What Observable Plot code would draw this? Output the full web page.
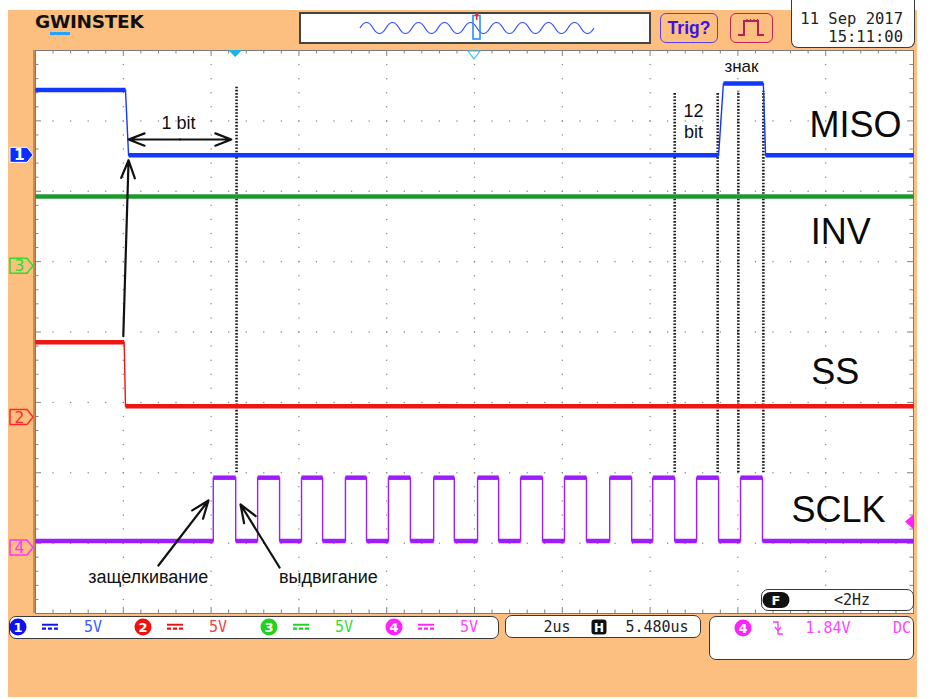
<!DOCTYPE html>
<html>
<head>
<meta charset="utf-8">
<script src="https://cdn.jsdelivr.net/npm/d3@7"></script>
<script src="https://cdn.jsdelivr.net/npm/@observablehq/plot@0.6"></script>
<style>
html,body{margin:0;padding:0;background:#fff;}
#scope{position:relative;width:928px;height:699px;overflow:hidden;}
#bg{position:absolute;left:8px;top:10px;width:909px;height:687px;background:#fcbf80;}
#chart{position:absolute;left:0;top:0;}
.box{position:absolute;background:#fff;border:1.5px solid #3a3a3a;box-sizing:border-box;}
.c{position:absolute;transform:translate(-50%,-50%);white-space:nowrap;line-height:1;}
.mono{font-family:"DejaVu Sans Mono","Liberation Mono",monospace;}
.circ{width:17px;height:17px;border-radius:50%;color:#fff;font:bold 13px "DejaVu Sans",sans-serif;display:flex;align-items:center;justify-content:center;}
#logo{position:absolute;left:35px;top:12px;font:bold 18.5px "DejaVu Sans",sans-serif;letter-spacing:-0.3px;color:#111;line-height:20px;}
#logo .w{border-bottom:3px solid #2aa0ff;}
</style>
</head>
<body>
<div id="scope">
  <div id="bg"></div>
  <div id="leftedge" style="position:absolute;left:33px;top:50px;width:2px;height:563px;background:#c98a4e;"></div>
  <div id="chart"></div>
  <div id="chrome"></div>
</div>
<script>
// ---------------- data ----------------
const usPerDiv = 2;          // time base (x in µs, 10 divisions)
const voltsPerDiv = 5;       // all channels
const channelIds = [1, 2, 3, 4];
const channelLabels = ["MISO", "SS", "INV", "SCLK"];
const channelOffsets = [2.51, -1.215, 0.935, -3.07];       // ground markers, divisions from centre
const traceColors = ["#1238ff", "#f01515", "#1e9632", "#9e1cff"];
const markerColors = ["#0a2eff", "#ff2a2a", "#2adf2a", "#ff33ff"];

// channel 1 : MISO
const misoTimes = [0, 2.05, 2.12, 15.56, 15.67, 16.58, 16.63, 20];
const misoVolts = [4.65, 4.65, 0, 0, 5.1, 5.1, 0, 0];
// channel 2 : SS
const ssTimes = [0, 2.02, 2.05, 20];
const ssVolts = [5.35, 5.35, 0.8, 0.8];
// channel 3 : INV
const invTimes = [0, 20];
const invVolts = [4.95, 4.95];
// channel 4 : SCLK
const sclkRise = [4.05, 5.06, 6.06, 7.06, 8.04, 9.07, 10.07, 11.05, 12.05, 13.08, 14.06, 15.06, 16.06];
const sclkFall = [4.56, 5.56, 6.54, 7.54, 8.54, 9.54, 10.55, 11.55, 12.55, 13.58, 14.56, 15.56, 16.56];
const sclkLow = 0.5, sclkHigh = 5.0;

// trigger
const trigChannel = 4, trigLevel = 1.84, trigTime = 4.56, centreTime = 10;

// dotted cursors
const cursorTimes = [4.58, 14.56, 15.54, 16.01, 16.58];
const cursorTops = [3.49, 3.39, 3.40, 3.42, 3.42];
const cursorBottom = -2.0;

// arrows
const arrowX1 = [3.29, 3.29, 2.00, 2.80, 5.56];
const arrowY1 = [2.735, 2.735, -0.06, -3.318, -3.346];
const arrowX2 = [2.12, 4.46, 2.12, 3.94, 4.67];
const arrowY2 = [2.735, 2.735, 2.44, -2.394, -2.451];

// annotation texts
const noteTexts = ["1 bit", "12", "bit", "знак", "защелкивание", "выдвигание"];
const noteX = [3.26, 14.99, 14.99, 16.08, 2.57, 6.67];
const noteY = [2.963, 3.133, 2.834, 3.773, -3.488, -3.488];
const noteSizes = [18, 18, 18, 17, 18, 18];
const labelX = [18.68, 18.22, 18.34, 18.29];
const labelY = [2.934, -0.575, 1.414, -2.536];

// screen texts
const dateText = "11 Sep 2017", timeText = "15:11:00";
const scaleTexts = ["5V", "5V", "5V", "5V"];
const timebaseText = "2us", hposText = "5.480us";
const trigText = "1.84V", couplingText = "DC", freqText = "<2Hz";

// ---------------- build ----------------
const toDiv = (ch, v) => channelOffsets[ch] + v / voltsPerDiv;
function tracePts(ch, times, volts) { return times.map((t, i) => ({ch, t, v: volts[i], y: toDiv(ch, volts[i])})); }
const sclkT = [0], sclkV = [sclkLow];
sclkRise.forEach((r, i) => { sclkT.push(r, r, sclkFall[i], sclkFall[i]); sclkV.push(sclkLow, sclkHigh, sclkHigh, sclkLow); });
sclkT.push(20); sclkV.push(sclkLow);

const traces = [
  tracePts(2, invTimes, invVolts),
  tracePts(0, misoTimes, misoVolts),
  tracePts(1, ssTimes, ssVolts),
  tracePts(3, sclkT, sclkV)
];
const levelSegs = [];
traces.forEach(pts => { for (let i = 1; i < pts.length; i++) if (pts[i].v === pts[i-1].v && pts[i].t > pts[i-1].t) levelSegs.push({ch: pts[i].ch, t1: pts[i-1].t, t2: pts[i].t, y: pts[i].y}); });
const allPts = traces.flatMap((pts, k) => pts.map(p => ({...p, k})));

const gridDots = [];
for (const gy of [-3, -2, -1, 0, 1, 2, 3]) for (let i = 1; i < 50; i++) gridDots.push({x: i * 0.4, y: gy});
for (let k = 1; k < 10; k++) for (let j = 1; j < 40; j++) gridDots.push({x: k * usPerDiv, y: -4 + j * 0.2});
const xTicks = d3.range(1, 50).map(i => ({x: i * 0.4, major: i % 5 === 0}));
const yTicks = d3.range(1, 40).map(j => ({y: -4 + j * 0.2, major: j % 5 === 0}));

const cursors = cursorTimes.map((t, i) => ({t, top: cursorTops[i]}));
const arrows = arrowX1.map((x, i) => ({x1: x, y1: arrowY1[i], x2: arrowX2[i], y2: arrowY2[i]}));
const notes = noteTexts.map((s, i) => ({s, x: noteX[i], y: noteY[i], size: noteSizes[i]}));
const labels = channelLabels.map((s, i) => ({s, x: labelX[i], y: labelY[i]}));
const font = "Liberation Sans, Arial, sans-serif";
const tickCol = "#808080";

const chart = Plot.plot({
  width: 928, height: 699,
  marginLeft: 35, marginRight: 15, marginTop: 50, marginBottom: 86,
  x: {domain: [0, 10 * usPerDiv], axis: null},
  y: {domain: [-4, 4], axis: null},
  style: {background: "transparent", overflow: "visible"},
  marks: [
    Plot.frame({fill: "white", stroke: "none"}),
    Plot.dot(gridDots, {x: "x", y: "y", r: 0.75, fill: "#8a8a8a", stroke: "none"}),
    Plot.ruleX(xTicks, {x: "x", y1: -4, y2: d => -4 + (d.major ? 0.085 : 0.05), stroke: tickCol}),
    Plot.ruleX(xTicks, {x: "x", y1: 4, y2: d => 4 - (d.major ? 0.085 : 0.05), stroke: tickCol}),
    Plot.ruleY(yTicks, {y: "y", x1: 0, x2: d => (d.major ? 0.137 : 0.08), stroke: tickCol}),
    Plot.ruleY(yTicks, {y: "y", x1: 20, x2: d => 20 - (d.major ? 0.137 : 0.08), stroke: tickCol}),
    Plot.frame({stroke: "#7a7a7a", strokeWidth: 1}),
    Plot.ruleX(cursors, {x: "t", y1: cursorBottom, y2: "top", stroke: "#1a1a1a", strokeWidth: 2.6, strokeDasharray: "1.6 1.6"}),
    Plot.line(allPts, {x: "t", y: "y", z: "k", stroke: d => traceColors[d.ch], strokeWidth: 1.4}),
    Plot.link(levelSegs, {x1: "t1", x2: "t2", y1: "y", y2: "y", stroke: d => traceColors[d.ch], strokeWidth: 4.5, strokeLinecap: "butt"}),
    Plot.arrow(arrows, {x1: "x1", y1: "y1", x2: "x2", y2: "y2", stroke: "#111", strokeWidth: 2.2, headLength: 13, headAngle: 42}),
    Plot.text(notes, {x: "x", y: "y", text: "s", fontSize: d => d.size, fontFamily: font, fill: "#111"}),
    Plot.text(labels, {x: "x", y: "y", text: "s", fontSize: 36, fontFamily: font, fill: "#0a0a0a"})
  ]
});
chart.style.background = "transparent";
document.getElementById("chart").appendChild(chart);

// scale functions from Plot
const sx = chart.scale("x"), sy = chart.scale("y");
const fx = d3.scaleLinear(sx.domain, sx.range), fy = d3.scaleLinear(sy.domain, sy.range);
const svg = d3.select(chart);

// channel ground markers
channelIds.forEach((id, i) => {
  const y = fy(channelOffsets[i]);
  const g = svg.append("g");
  const filled = id === 1;
  g.append("path").attr("d", `M10,${y-7.5}H27L33,${y}L27,${y+7.5}H10Z`)
    .attr("fill", filled ? markerColors[i] : "#fcbf80").attr("stroke", filled ? "#ffffff" : markerColors[i]).attr("stroke-width", filled ? 1 : 1.5);
  g.append("text").attr("x", 19.5).attr("y", y).attr("dy", "0.36em").attr("text-anchor", "middle")
    .attr("font-family", "DejaVu Sans, sans-serif").attr("font-size", 15.5).attr("font-weight", filled ? "bold" : "normal")
    .attr("fill", filled ? "#fff" : markerColors[i]).text(id);
});
// trigger-position markers on top edge
{
  const xt = fx(trigTime), xc = fx(centreTime), yt = fy(4);
  svg.append("path").attr("d", `M${xt-7},${yt}L${xt+7},${yt}L${xt},${yt+7}Z`).attr("fill", "#19b6ee");
  svg.append("path").attr("d", `M${xc-6},${yt+1}L${xc+6},${yt+1}L${xc},${yt+9}Z`).attr("fill", "white").attr("stroke", "#39c6f2").attr("stroke-width", 1.2);
  const yl = fy(toDiv(trigChannel - 1, trigLevel)), xr = fx(20);
  svg.append("path").attr("d", `M${xr},${yl-7}L${xr},${yl+7}L${xr-8},${yl}Z`).attr("fill", "#ff22ff");
}

// ---------------- chrome ----------------
const chrome = document.getElementById("chrome");
function add(html) { chrome.insertAdjacentHTML("beforeend", html); }

add(`<div id="logo">G<span class="w">W</span>INSTEK</div>`);
// overview
let wave = "M59 18";
for (let i = 0; i < 18; i++) wave += (i % 2 ? " q6.5 11 13 0" : " q6.5 -11 13 0");
add(`<div class="box" style="left:299px;top:12px;width:352px;height:32px;border:2px solid #444;">
<svg width="348" height="28" style="position:absolute;left:0;top:0;overflow:visible">
<path d="${wave}" transform="translate(0,-4)" fill="none" stroke="#3050ff" stroke-width="1.2"/>
<rect x="172" y="1.5" width="7" height="23.5" fill="none" stroke="#2a8cff" stroke-width="1.6"/>
<path d="M173.5 -1 L178 -1 L175.7 4Z" fill="#ff1a1a"/><line x1="175.7" y1="-1" x2="175.7" y2="6" stroke="#ff1a1a" stroke-width="1.5"/>
</svg></div>`);
// Trig? and pulse
add(`<div class="box" style="left:660px;top:13px;width:58px;height:30px;border:1.5px solid #5b3ff0;border-radius:6px;background:transparent;"></div>
<div class="c" style="left:689px;top:28px;font:bold 17.5px 'Liberation Sans',Arial,sans-serif;color:#3a14e6;">Trig?</div>`);
add(`<div class="box" style="left:730px;top:13px;width:43px;height:30px;border:1.5px solid #c0245c;border-radius:6px;background:transparent;">
<svg width="40" height="27" style="position:absolute;left:0;top:0">
<path d="M7 21 H13 V7 H27 V21 H33" fill="none" stroke="#b51f5c" stroke-width="2"/>
<path d="M16 7V5 M19.5 7V5 M23 7V5 M26.5 7V5" stroke="#b51f5c" stroke-width="1.2"/>
</svg></div>`);
// date
add(`<div class="box" style="left:791px;top:0px;width:124px;height:48px;border-top:none;border-radius:0 0 7px 7px;"></div>
<div class="mono" style="position:absolute;right:25px;top:12px;font-size:15.5px;color:#222;line-height:1;">${dateText}</div>
<div class="mono" style="position:absolute;right:25px;top:30px;font-size:15.5px;color:#222;line-height:1;">${timeText}</div>`);

// channel bar
add(`<div class="box" style="left:9px;top:616px;width:490px;height:23px;border-radius:7px;"></div>`);
const chipCols = ["#1010f0", "#f01010", "#1ed21e", "#ff22ff"];
const textCols = ["#3a5cff", "#f04444", "#33dd33", "#ff44ff"];
const chipX = [18, 143, 269, 394];
channelIds.forEach((id, i) => {
  const x = chipX[i];
  add(`<div class="c circ" style="left:${x}px;top:627px;background:${chipCols[i]};">${id}</div>`);
  add(`<svg class="c" style="left:${x+32}px;top:627px;" width="16" height="7"><rect x="0" y="0" width="16" height="2.2" fill="${chipCols[i]}"/><path d="M0 5.2H4 M6 5.2H10 M12 5.2H16" stroke="${chipCols[i]}" stroke-width="2.2"/></svg>`);
  add(`<div class="c mono" style="left:${x+75}px;top:627px;font-size:15px;color:${textCols[i]};">${scaleTexts[i]}</div>`);
});
// horizontal bar
add(`<div class="box" style="left:505px;top:615px;width:196px;height:23px;border-radius:7px;"></div>
<div class="c mono" style="left:557px;top:627px;font-size:15px;color:#222;">${timebaseText}</div>
<div class="c" style="left:599px;top:627px;width:15px;height:15px;border-radius:3px;background:#111;color:#fff;font:bold 12px 'DejaVu Sans',sans-serif;display:flex;align-items:center;justify-content:center;">H</div>
<div class="c mono" style="left:657px;top:627px;font-size:15px;color:#222;">${hposText}</div>`);
// trigger bar
add(`<div class="box" style="left:709px;top:616px;width:205px;height:44px;border-radius:7px;"></div>
<div class="c circ" style="left:743px;top:628px;background:#ff22ff;">${trigChannel}</div>
<svg class="c" style="left:778px;top:628px;" width="12" height="16"><path d="M1 2H6V14H11" fill="none" stroke="#ff33ff" stroke-width="1.3"/><path d="M3 7L6 10.5L9 7" fill="none" stroke="#ff33ff" stroke-width="1.3"/></svg>
<div class="c mono" style="left:828px;top:628px;font-size:15px;color:#ff44ff;">${trigText}</div>
<div class="c mono" style="left:902px;top:628px;font-size:15px;color:#ff44ff;">${couplingText}</div>`);
// frequency box
add(`<div class="box" style="left:761px;top:589px;width:153px;height:22px;border-radius:7px;"></div>
<div class="c" style="left:776px;top:600px;width:27px;height:16px;border-radius:8px;background:#111;color:#fff;font:bold 13px 'DejaVu Sans',sans-serif;display:flex;align-items:center;justify-content:center;">F</div>
<div class="c mono" style="left:852px;top:600px;font-size:15px;color:#222;">${freqText}</div>`);
</script>
</body>
</html>
